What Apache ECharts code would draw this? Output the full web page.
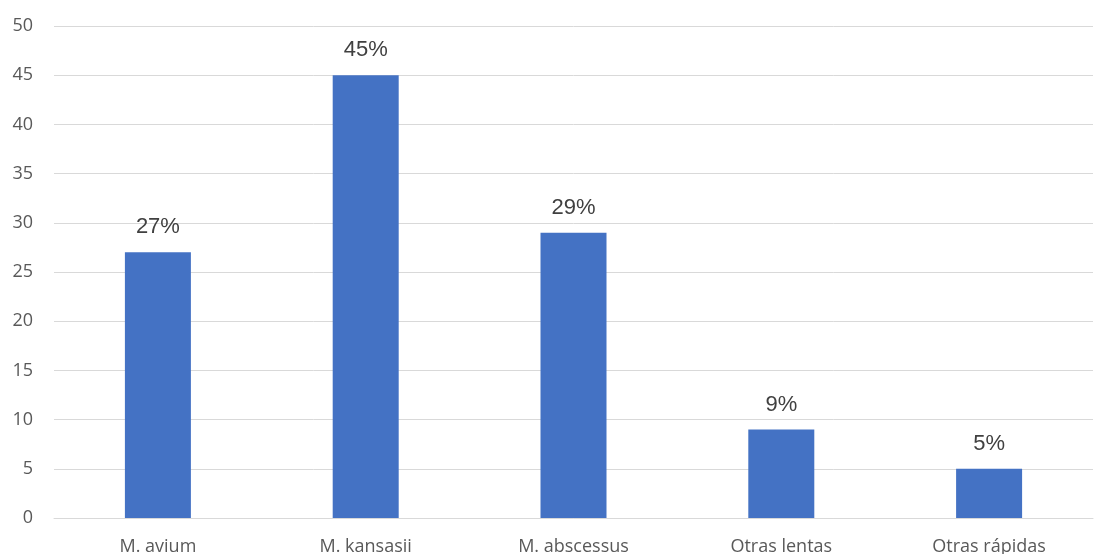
<!DOCTYPE html>
<html><head><meta charset="utf-8">
<script src="https://cdn.jsdelivr.net/npm/echarts@6/dist/echarts.min.js"></script>
<style>html,body{margin:0;padding:0;background:#fff}#c{width:1101px;height:554px}</style>
</head><body><div id="c"></div>
<script>
const categories = ["M. avium", "M. kansasii", "M. abscessus", "Otras lentas", "Otras rápidas"];
const values = [27, 45, 29, 9, 5];
const yTicks = [0, 5, 10, 15, 20, 25, 30, 35, 40, 45, 50];

const chart = echarts.init(document.getElementById('c'), null, {renderer: 'canvas'});
chart.setOption({
  animation: false,
  grid: {left: 54, right: 8, top: 26, bottom: 36, containLabel: false, outerBoundsMode: 'none'},
  xAxis: {
    type: 'category', data: categories,
    axisLine: {show: true, lineStyle: {color: '#d9d9d9', width: 1}},
    axisTick: {show: false},
    axisLabel: {color: '#595959', fontSize: 18, fontFamily: 'Open Sans, Noto Sans, sans-serif', margin: 20}
  },
  yAxis: {
    type: 'value', min: yTicks[0], max: yTicks[yTicks.length - 1], interval: 5,
    axisLine: {show: false}, axisTick: {show: false},
    splitLine: {lineStyle: {color: '#d9d9d9', width: 1}},
    axisLabel: {color: '#595959', fontSize: 18, fontFamily: 'Open Sans, Noto Sans, sans-serif', margin: 21}
  },
  series: [{
    type: 'bar', data: values, barWidth: 66, z: 1,
    itemStyle: {color: '#4472c4'},
    label: {show: true, position: 'top', distance: 14, formatter: '{c}%', color: '#404040', fontSize: 22, fontFamily: 'Liberation Sans, Arial, sans-serif'}
  }]
});
</script></body></html>
